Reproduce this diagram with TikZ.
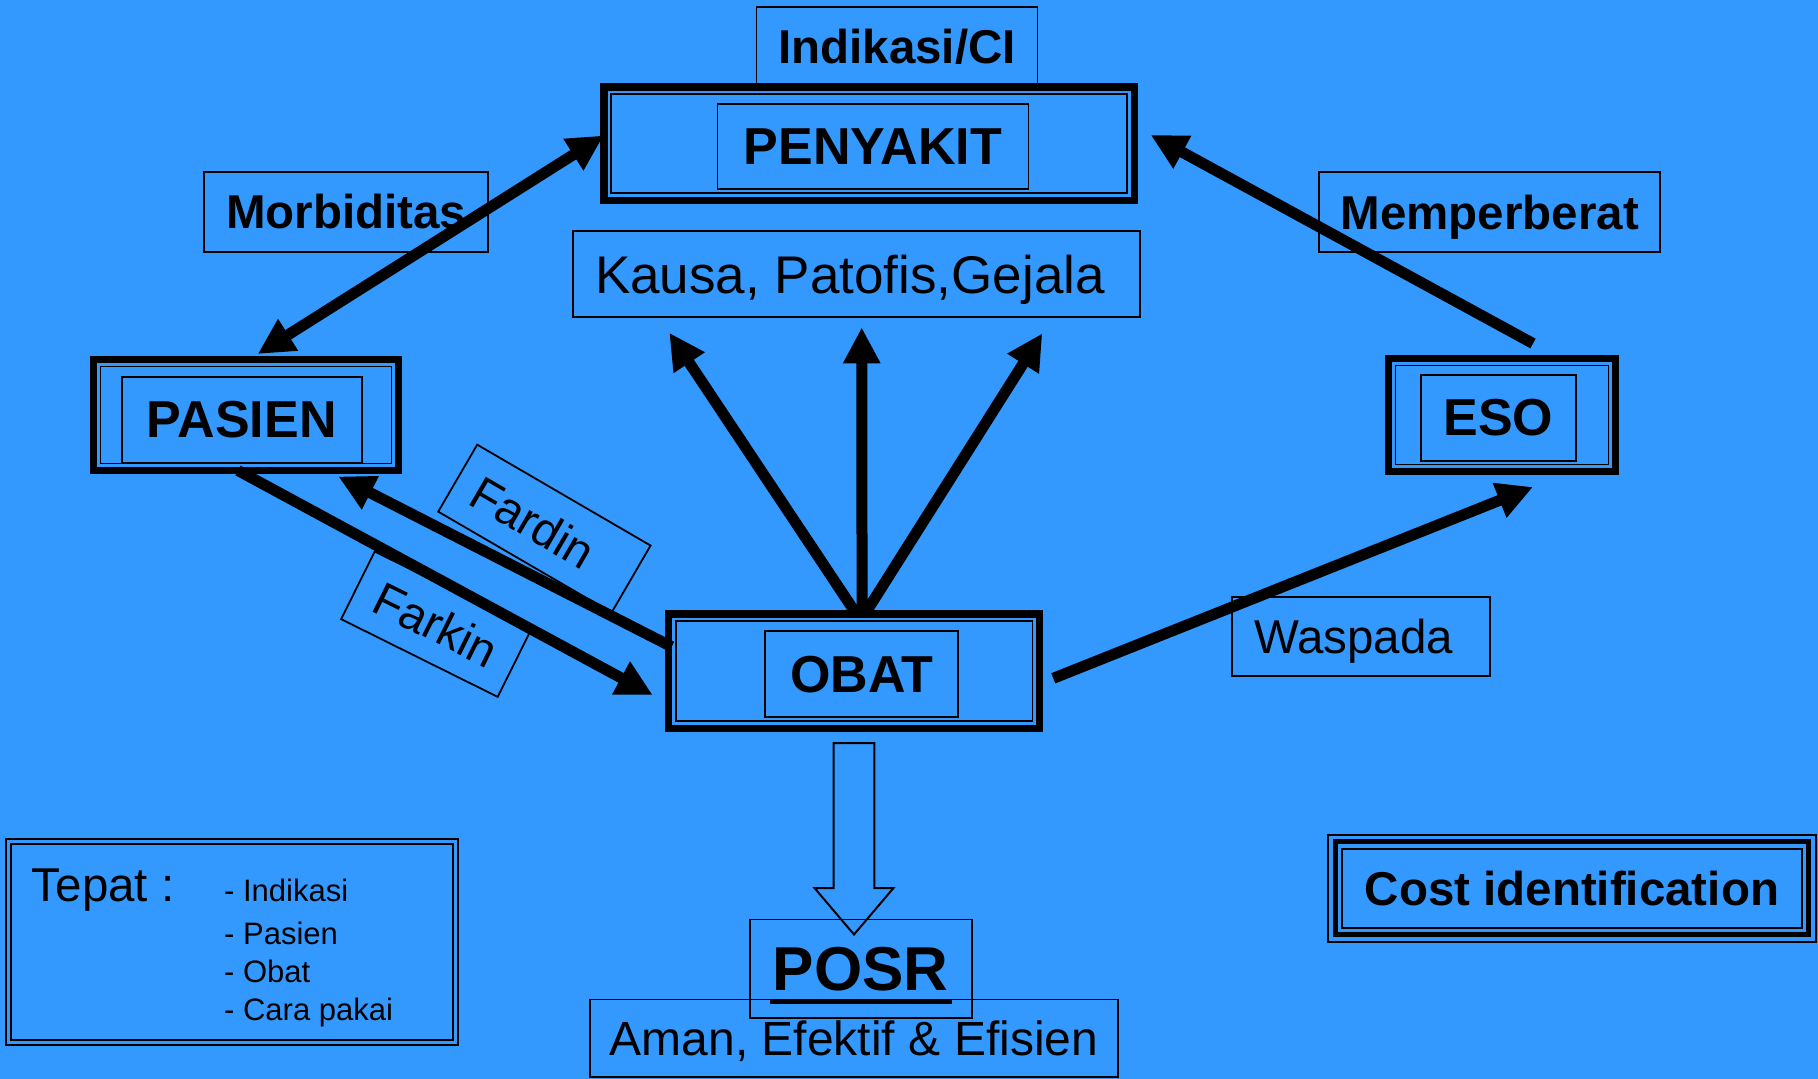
\documentclass[tikz,border=0pt]{standalone}
\usepackage{fontspec}
\setmainfont{Liberation Sans}
\usetikzlibrary{arrows.meta}
\definecolor{slide}{RGB}{51,153,255}
\tikzset{
  frame/.style={draw, line width=7.5pt, inner sep=0pt, outer sep=0pt},
  plainbox/.style={draw, line width=1.8pt, inner sep=0pt, outer sep=0pt, text depth=0pt},
  bigbold/.style={font=\fontsize{52}{60}\selectfont\bfseries},
  smallbold/.style={font=\fontsize{47.5}{56}\selectfont\bfseries},
  normal/.style={font=\fontsize{47.5}{56}\selectfont},
  listtext/.style={font=\fontsize{31}{38}\selectfont, inner sep=0pt, anchor=base west},
  link/.style={line width=11pt, -{Triangle[length=36pt,width=35pt]}},
  twolink/.style={line width=11pt, {Triangle[length=36pt,width=35pt]}-{Triangle[length=36pt,width=35pt]}},
}
% thin rule drawn just inside a framed node
\newcommand\innerline[3]{%
  \draw[line width=#3] ([xshift=#2,yshift=-#2]#1.north west) rectangle ([xshift=-#2,yshift=#2]#1.south east);}
% moves a box's text left by half the given amount
\newcommand\leftby[1]{\hspace*{-#1}}
\begin{document}
\begin{tikzpicture}[x=1pt,y=-1pt]
\useasboundingbox (0,0) rectangle (1818,1079);
\fill[slide] (0,0) rectangle (1818,1079);

% label above the disease box
\node[plainbox, smallbold, minimum width=281pt, minimum height=79pt] (indikasi) at (897,46.5) {Indikasi/CI};

% PENYAKIT
\node[frame, minimum width=530.5pt, minimum height=113.5pt] (penyakit) at (869,143.5) {};
\innerline{penyakit}{7pt}{1.8pt}
\node[plainbox, bigbold, minimum width=311pt, minimum height=84.6pt] (penyakitlbl) at (873,146.5) {PENYAKIT};

% side labels
\node[plainbox, smallbold, minimum width=284.3pt, minimum height=80pt] (morbiditas) at (346.2,211.7) {Morbiditas};
\node[plainbox, smallbold, minimum width=341.3pt, minimum height=79.4pt] (memperberat) at (1489.7,212) {Memperberat};
\node[plainbox, font=\fontsize{53}{62}\selectfont, minimum width=566.4pt, minimum height=85.7pt] (kausa) at (856.5,273.9) {\leftby{13pt}Kausa, Patofis,Gejala};

% PASIEN
\node[frame, minimum width=305pt, minimum height=111pt] (pasien) at (246,415) {};
\innerline{pasien}{7pt}{1.8pt}
\node[plainbox, bigbold, minimum width=240pt, minimum height=85.8pt] (pasienlbl) at (241.7,419.7) {PASIEN};

% ESO
\node[frame, minimum width=227pt, minimum height=113pt] (eso) at (1502,415) {};
\innerline{eso}{7pt}{1.8pt}
\node[plainbox, bigbold, minimum width=154.7pt, minimum height=85.7pt] (esolbl) at (1498.4,417.8) {ESO};

% OBAT
\node[frame, minimum width=370.8pt, minimum height=114.5pt] (obat) at (854.1,671) {};
\innerline{obat}{7pt}{1.8pt}
\node[plainbox, bigbold, minimum width=193pt, minimum height=85.7pt] (obatlbl) at (861.8,673.9) {OBAT};

% slanted labels
\node[plainbox, normal, minimum width=200.6pt, minimum height=77.5pt, rotate=-30.2] (fardin) at (544.4,528.6) {\leftby{26pt}Fardin};
\node[plainbox, normal, minimum width=174.8pt, minimum height=75.5pt, rotate=-26.4] (farkin) at (436.2,624.2) {Farkin};
\node[plainbox, normal, minimum width=257.7pt, minimum height=79pt] (waspada) at (1361.2,636.2) {\leftby{15pt}Waspada};

% outcome
\node[plainbox, font=\fontsize{62}{70}\selectfont\bfseries, minimum width=221.6pt, minimum height=98.6pt] (posr) at (860.8,968.7) {POSR};
\draw[line width=4.5pt] ([xshift=-91pt,yshift=-32.8pt]posr.center) -- ([xshift=91pt,yshift=-32.8pt]posr.center);
\node[plainbox, font=\fontsize{48}{56}\selectfont, minimum width=528pt, minimum height=77.6pt] (aman) at (854,1038.2) {Aman, Efektif \& Efisien};

% hollow arrow from OBAT down to POSR
\draw[line width=2pt, line join=miter] (833.7,743) -- (874.3,743) -- (874.3,888) -- (893.5,888)
  -- (854,934.5) -- (814.5,888) -- (833.7,888) -- cycle;

% Tepat box
\node[draw, line width=2.6pt, inner sep=0pt, outer sep=0pt, minimum width=452pt, minimum height=206pt] (tepat) at (232,942) {};
\innerline{tepat}{4.7pt}{2pt}
\node[normal, inner sep=0pt, anchor=base west] (tepatlbl) at (31.7,901.7) {Tepat :};
\node[listtext] (t1) at (224,901.7) {- Indikasi};
\node[listtext] (t2) at (224,944) {- Pasien};
\node[listtext] (t3) at (224,982.3) {- Obat};
\node[listtext] (t4) at (224,1020) {- Cara pakai};

% Cost identification box
\node[draw, line width=2pt, inner sep=0pt, outer sep=0pt, text depth=0pt, smallbold, minimum width=487.2pt, minimum height=107.2pt] (cost) at (1571.9,888.1) {Cost identification};
\innerline{cost}{7pt}{4.5pt}
\innerline{cost}{14pt}{2pt}

% connectors
\draw[twolink] ([xshift=11.7pt,yshift=5.5pt]pasien.north) -- ([yshift=8pt]penyakit.west);
\draw[link] ([xshift=31pt,yshift=15pt]eso.north) -- ([xshift=16.5pt,yshift=8.5pt]penyakit.east);
\draw[link] ([xshift=1pt,yshift=1.7pt]obat.north) -- ([xshift=-187.2pt,yshift=-16pt]kausa.south);
\draw[link] ([xshift=8pt,yshift=1.7pt]obat.north) -- ([xshift=5.2pt,yshift=-10.6pt]kausa.south);
\draw[link] ([xshift=12pt,yshift=1.7pt]obat.north) -- ([xshift=185.8pt,yshift=-16.6pt]kausa.south);
\draw[link] ([xshift=-8pt]pasien.south) -- ([xshift=-16pt,yshift=-24pt]obat.west);
\draw[link] ([xshift=3pt,yshift=24.3pt]obat.west) -- ([xshift=92.3pt,yshift=-6pt]pasien.south);
\draw[link] ([xshift=13.8pt,yshift=-7.3pt]obat.east) -- ([xshift=31pt,yshift=-15.5pt]eso.south);
\end{tikzpicture}
\end{document}
